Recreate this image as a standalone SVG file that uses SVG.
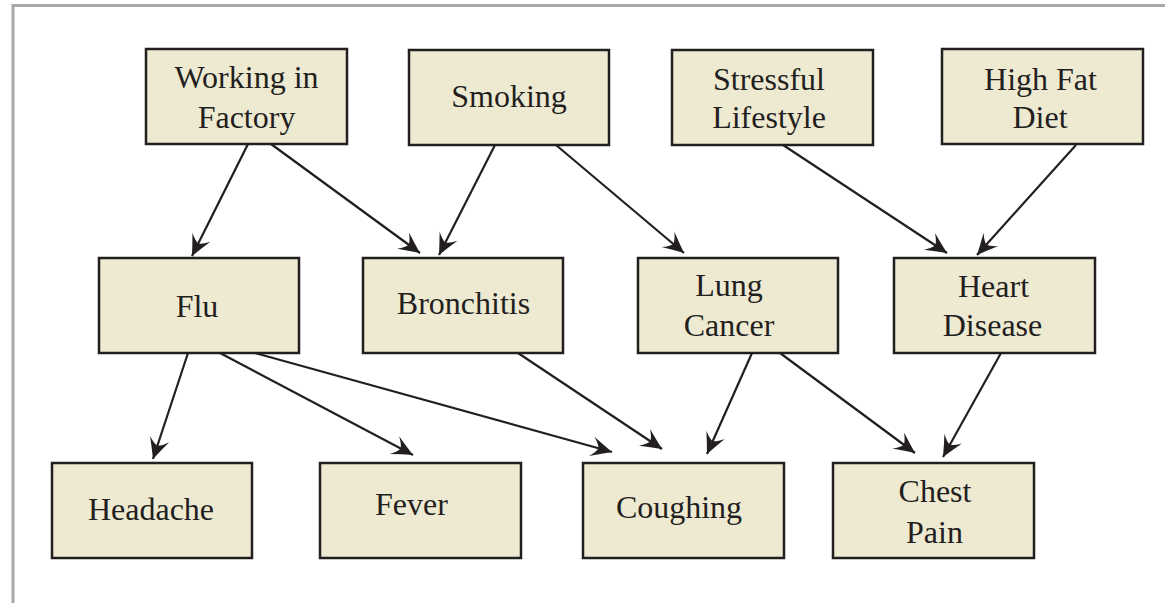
<svg xmlns="http://www.w3.org/2000/svg" width="1165" height="603" viewBox="0 0 1165 603">
<style>
.box{fill:#eeead2;stroke:#231f20;stroke-width:2.5}
.t{font-family:"Liberation Serif","Times New Roman",serif;font-size:32px;fill:#231f20;text-anchor:middle}
.c{stroke:#231f20;stroke-width:2.2;fill:none;marker-end:url(#ah)}
</style>
<defs>
<marker id="ah" markerUnits="userSpaceOnUse" markerWidth="24" markerHeight="24" viewBox="-22 -12 24 24" refX="0" refY="0" orient="auto" overflow="visible">
<path d="M0,0 Q-11,-5 -21,-10 Q-15,-4 -14,0 Q-15,4 -21,10 Q-11,5 0,0 Z" fill="#231f20"/>
</marker>
</defs>
<rect width="1165" height="603" fill="#ffffff"/>
<path d="M13,603 V5.5 H1165" fill="none" stroke="#a7a9ac" stroke-width="3"/>
<g id="connectors">
<line class="c" x1="248" y1="144" x2="192" y2="256"/>
<line class="c" x1="271" y1="144" x2="420" y2="253"/>
<line class="c" x1="495" y1="145" x2="439" y2="255"/>
<line class="c" x1="556" y1="145" x2="684" y2="253"/>
<line class="c" x1="783" y1="145" x2="947" y2="253"/>
<line class="c" x1="1076" y1="145" x2="977" y2="255"/>
<line class="c" x1="188" y1="353" x2="153" y2="459"/>
<line class="c" x1="220" y1="353" x2="413" y2="455"/>
<line class="c" x1="255" y1="353" x2="612" y2="452"/>
<line class="c" x1="518" y1="353" x2="662" y2="449"/>
<line class="c" x1="752" y1="353" x2="707" y2="454"/>
<line class="c" x1="780" y1="353" x2="915" y2="453"/>
<line class="c" x1="1001" y1="353" x2="943" y2="457"/>
</g>
<g id="working"><rect class="box" x="146" y="49" width="201" height="95"/><text class="t" x="246.5" y="88">Working in</text><text class="t" x="246.5" y="128">Factory</text></g>
<g id="smoking"><rect class="box" x="409" y="50" width="200" height="95"/><text class="t" x="509" y="107">Smoking</text></g>
<g id="stressful"><rect class="box" x="672" y="50" width="201" height="95"/><text class="t" x="769" y="90">Stressful</text><text class="t" x="769" y="128">Lifestyle</text></g>
<g id="highfat"><rect class="box" x="942" y="49" width="201" height="95"/><text class="t" x="1040.5" y="90">High Fat</text><text class="t" x="1040" y="128">Diet</text></g>
<g id="flu"><rect class="box" x="99" y="258" width="200" height="95"/><text class="t" x="197" y="317">Flu</text></g>
<g id="bronchitis"><rect class="box" x="363" y="258" width="200" height="95"/><text class="t" x="463.5" y="314">Bronchitis</text></g>
<g id="lungcancer"><rect class="box" x="638" y="258" width="200" height="95"/><text class="t" x="729" y="296">Lung</text><text class="t" x="729" y="336">Cancer</text></g>
<g id="heartdisease"><rect class="box" x="894" y="258" width="201" height="95"/><text class="t" x="993.5" y="297">Heart</text><text class="t" x="992.5" y="336">Disease</text></g>
<g id="headache"><rect class="box" x="52" y="463" width="200" height="95"/><text class="t" x="151" y="520">Headache</text></g>
<g id="fever"><rect class="box" x="320" y="463" width="201" height="95"/><text class="t" x="411.5" y="515">Fever</text></g>
<g id="coughing"><rect class="box" x="583" y="463" width="201" height="95"/><text class="t" x="679" y="518">Coughing</text></g>
<g id="chestpain"><rect class="box" x="833" y="463" width="201" height="95"/><text class="t" x="935" y="502">Chest</text><text class="t" x="934.5" y="543">Pain</text></g>
</svg>
